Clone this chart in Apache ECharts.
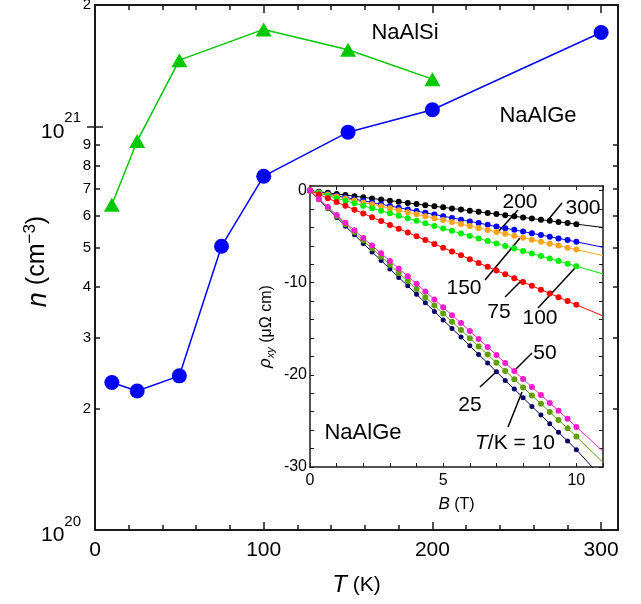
<!DOCTYPE html>
<html>
<head>
<meta charset="utf-8">
<script src="https://cdn.jsdelivr.net/npm/echarts@6/dist/echarts.min.js"></script>
<style>
  html, body { margin: 0; padding: 0; background: #fff; }
  #chart { width: 641px; height: 604px; }
</style>
</head>
<body>
<div id="chart"></div>
<script>
// main panel: carrier density vs temperature
var temps = [10, 25, 50, 75, 100, 150, 200, 300];
var nGe = [2.32e20, 2.21e20, 2.41e20, 5.05e20, 7.53e20, 9.68e20, 1.10e21, 1.71e21];
var tempsSi = [10, 25, 50, 100, 150, 200];
var nSi = [6.4e20, 9.2e20, 1.46e21, 1.74e21, 1.55e21, 1.31e21];

var nMinorTicks = [2e20, 3e20, 4e20, 5e20, 6e20, 7e20, 8e20, 9e20];
var nMajorTicks = [1e21];
var nLabelsLow = [1e20, 2e20, 3e20, 4e20, 5e20, 6e20, 7e20, 8e20, 9e20];
var nLabelsHigh = [1e21, 2e21];
var tMajor = [0, 100, 200, 300];
var tMinor = [0, 20, 40, 60, 80, 100, 120, 140, 160, 180, 200, 220, 240, 260, 280, 300];

// inset: Hall resistivity vs field for NaAlGe
var field = [0, 0.33, 0.67, 1, 1.33, 1.67, 2, 2.33, 2.67, 3, 3.33, 3.67, 4, 4.33, 4.67, 5,
  5.33, 5.67, 6, 6.33, 6.67, 7, 7.33, 7.67, 8, 8.33, 8.67, 9, 9.33, 9.67, 10];
var rho300 = [0, -0.12, -0.24, -0.36, -0.48, -0.61, -0.73, -0.85, -0.97, -1.09, -1.21, -1.34, -1.46, -1.58, -1.70, -1.82,
  -1.94, -2.06, -2.18, -2.30, -2.43, -2.55, -2.67, -2.79, -2.91, -3.03, -3.16, -3.28, -3.40, -3.52, -3.64];
var rho200 = [0, -0.19, -0.37, -0.56, -0.74, -0.93, -1.11, -1.30, -1.48, -1.67, -1.85, -2.04, -2.22, -2.41, -2.59, -2.78,
  -2.96, -3.15, -3.34, -3.52, -3.71, -3.89, -4.08, -4.26, -4.45, -4.63, -4.82, -5.00, -5.19, -5.37, -5.56];
var rho150 = [0, -0.21, -0.43, -0.64, -0.85, -1.07, -1.28, -1.49, -1.71, -1.92, -2.13, -2.35, -2.56, -2.77, -2.99, -3.20,
  -3.41, -3.63, -3.84, -4.05, -4.27, -4.48, -4.69, -4.91, -5.12, -5.33, -5.55, -5.76, -5.97, -6.19, -6.40];
var rho100 = [0, -0.27, -0.55, -0.82, -1.09, -1.37, -1.64, -1.91, -2.19, -2.46, -2.73, -3.01, -3.28, -3.55, -3.83, -4.10,
  -4.37, -4.65, -4.92, -5.19, -5.47, -5.74, -6.01, -6.29, -6.56, -6.83, -7.11, -7.38, -7.65, -7.93, -8.20];
var rho75 = [0, -0.41, -0.83, -1.24, -1.65, -2.07, -2.48, -2.89, -3.31, -3.72, -4.13, -4.55, -4.96, -5.37, -5.79, -6.20,
  -6.61, -7.03, -7.44, -7.85, -8.27, -8.68, -9.09, -9.51, -9.92, -10.33, -10.75, -11.16, -11.57, -11.99, -12.40];
var rho50 = [0, -0.90, -1.78, -2.64, -3.48, -4.31, -5.14, -5.97, -6.80, -7.63, -8.46, -9.29, -10.12, -10.96, -11.81, -12.66,
  -13.52, -14.38, -15.24, -16.11, -16.98, -17.85, -18.72, -19.59, -20.46, -21.32, -22.18, -23.04, -23.90, -24.77, -25.65];
var rho25 = [0, -0.93, -1.85, -2.76, -3.65, -4.53, -5.41, -6.29, -7.17, -8.05, -8.93, -9.81, -10.69, -11.57, -12.46, -13.35,
  -14.24, -15.13, -16.02, -16.91, -17.80, -18.69, -19.58, -20.47, -21.36, -22.24, -23.13, -24.02, -24.91, -25.80, -26.70];
var rho10 = [0, -0.98, -1.95, -2.91, -3.86, -4.80, -5.73, -6.66, -7.58, -8.50, -9.42, -10.34, -11.26, -12.18, -13.11, -14.04,
  -14.97, -15.90, -16.84, -17.78, -18.72, -19.66, -20.60, -21.54, -22.48, -23.42, -24.36, -25.30, -26.24, -27.18, -28.12];
// fit lines run on to 11 T
var fitEndField = 11;
var fitEnd = { t300: -4.0, t200: -6.15, t150: -7.05, t100: -9.05, t75: -13.6, t50: -28.3, t25: -29.5, t10: -31.3 };

var bTicks = [0, 1, 2, 3, 4, 5, 6, 7, 8, 9, 10, 11];
var bLabels = [0, 5, 10];
var rhoTicks = [-30, -28, -26, -24, -22, -20, -18, -16, -14, -12, -10, -8, -6, -4, -2, 0];
var rhoLabels = [-30, -20, -10, 0];

var FONT = "'Liberation Sans', Arial, sans-serif";
var AXIS_COLOR = '#1a1a1a';
var N_MIN = 1e20, N_MAX = 2.000001e21; // tiny headroom so the 2e21 label survives float rounding

var chart = echarts.init(document.getElementById('chart'));

function logLabel(v) {
  var e = Math.floor(Math.log10(v) + 1e-9);
  var m = Math.round(v / Math.pow(10, e));
  if (m === 1) return '{b|10}{s|' + e + '}';
  return String(m);
}

function xAx(opt) {
  return Object.assign({
    type: 'value',
    splitLine: { show: false },
    axisLine: { show: false, onZero: false },
    axisLabel: { show: false },
    axisTick: { show: false }
  }, opt);
}

function hallSeries(rho, end, color, size) {
  var data = field.map(function (b, i) { return [b, rho[i]]; });
  data.push({ value: [fitEndField, end], symbol: 'none' });
  return {
    type: 'line',
    xAxisIndex: 4,
    yAxisIndex: 4,
    data: data,
    symbol: 'circle',
    symbolSize: size || 6,
    lineStyle: { color: color, width: 1 },
    itemStyle: { color: color },
    animation: false
  };
}

var mainLine = { show: true, onZero: false, lineStyle: { color: AXIS_COLOR, width: 2 } };
var insetLine = { show: true, onZero: false, lineStyle: { color: AXIS_COLOR, width: 1.5 } };
var tickStyle = { color: AXIS_COLOR, width: 1.5 };
var logRich = {
  b: { fontSize: 21, fontFamily: FONT, color: '#000', verticalAlign: 'bottom' },
  s: { fontSize: 15, fontFamily: FONT, color: '#000', verticalAlign: 'bottom', padding: [0, 10, 17, 0] }
};

var option = {
  animation: false,
  textStyle: { fontFamily: FONT },
  grid: [
    { left: 95, top: 5, right: 23, bottom: 74, outerBoundsMode: 'none', containLabel: false },
    { left: 310, top: 186, right: 38, bottom: 137, outerBoundsMode: 'none', containLabel: false }
  ],
  xAxis: [
    xAx({
      gridIndex: 0, min: 0, max: 310, position: 'bottom',
      axisLine: mainLine,
      axisTick: { show: true, inside: true, length: 8, customValues: tMajor, lineStyle: tickStyle },
      axisLabel: { show: true, customValues: tMajor, fontSize: 21, margin: 10, color: '#000', fontFamily: FONT },
      name: '{i|T} (K)',
      nameLocation: 'middle',
      nameGap: 43,
      nameMoveOverlap: false,
      nameTextStyle: {
        fontSize: 21, color: '#000', fontFamily: FONT,
        rich: { i: { fontSize: 24, fontStyle: 'italic', fontFamily: FONT } }
      }
    }),
    xAx({
      gridIndex: 0, min: 0, max: 310, position: 'bottom',
      axisTick: { show: true, inside: true, length: 5, customValues: tMinor, lineStyle: tickStyle }
    }),
    xAx({
      gridIndex: 0, min: 0, max: 310, position: 'top',
      axisLine: mainLine,
      axisTick: { show: true, inside: true, length: 8, customValues: tMajor, lineStyle: tickStyle }
    }),
    xAx({
      gridIndex: 0, min: 0, max: 310, position: 'top',
      axisTick: { show: true, inside: true, length: 5, customValues: tMinor, lineStyle: tickStyle }
    }),
    xAx({
      gridIndex: 1, min: 0, max: 11, position: 'bottom',
      axisLine: insetLine,
      axisTick: { show: true, inside: true, length: 4, customValues: bTicks, lineStyle: { color: AXIS_COLOR, width: 1 } },
      axisLabel: { show: true, customValues: bLabels, fontSize: 16, margin: 6, color: '#000', fontFamily: FONT },
      name: '{i|B} (T)',
      nameLocation: 'middle',
      nameGap: 29,
      nameMoveOverlap: false,
      nameTextStyle: {
        fontSize: 16, color: '#000', fontFamily: FONT,
        rich: { i: { fontSize: 17, fontStyle: 'italic', fontFamily: FONT } }
      }
    }),
    xAx({
      gridIndex: 1, min: 0, max: 11, position: 'top',
      axisLine: insetLine,
      axisTick: { show: true, inside: true, length: 4, customValues: bTicks, lineStyle: { color: AXIS_COLOR, width: 1 } }
    })
  ],
  yAxis: [
    {
      gridIndex: 0, type: 'log', logBase: 10, min: N_MIN, max: N_MAX, position: 'left',
      splitLine: { show: false },
      axisLine: mainLine,
      axisTick: { show: true, inside: true, length: 5, customValues: nMinorTicks, lineStyle: tickStyle },
      axisLabel: {
        customValues: nLabelsLow, formatter: logLabel, fontSize: 15, margin: 4, color: '#000', fontFamily: FONT,
        hideOverlap: false, showMinLabel: true, showMaxLabel: true, rich: logRich
      },
      name: '{i|n} (cm{s|\u22123})',
      nameLocation: 'middle',
      nameGap: 43,
      nameMoveOverlap: false,
      nameTextStyle: {
        fontSize: 25, color: '#000', fontFamily: FONT, padding: [0, 0, 0, 12],
        rich: {
          i: { fontSize: 27, fontStyle: 'italic', fontFamily: FONT, verticalAlign: 'bottom' },
          s: { fontSize: 17, fontFamily: FONT, verticalAlign: 'bottom', padding: [0, 0, 13, 0] }
        }
      }
    },
    {
      gridIndex: 0, type: 'log', logBase: 10, min: N_MIN, max: N_MAX, position: 'left',
      splitLine: { show: false }, axisLine: { show: false },
      axisLabel: {
        customValues: nLabelsHigh, formatter: logLabel, fontSize: 15, margin: 4, color: '#000', fontFamily: FONT,
        hideOverlap: false, showMinLabel: true, showMaxLabel: true, rich: logRich
      },
      axisTick: { show: true, inside: true, length: 8, customValues: nMajorTicks, lineStyle: tickStyle }
    },
    {
      gridIndex: 0, type: 'log', logBase: 10, min: N_MIN, max: N_MAX, position: 'right',
      splitLine: { show: false }, axisLine: mainLine, axisLabel: { show: false },
      axisTick: { show: true, inside: true, length: 5, customValues: nMinorTicks, lineStyle: tickStyle }
    },
    {
      gridIndex: 0, type: 'log', logBase: 10, min: N_MIN, max: N_MAX, position: 'right',
      splitLine: { show: false }, axisLine: { show: false }, axisLabel: { show: false },
      axisTick: { show: true, inside: true, length: 8, customValues: nMajorTicks, lineStyle: tickStyle }
    },
    {
      gridIndex: 1, type: 'value', min: -30, max: 0.5, position: 'left',
      splitLine: { show: false },
      axisLine: insetLine,
      axisTick: { show: true, inside: true, length: 4, customValues: rhoTicks, lineStyle: { color: AXIS_COLOR, width: 1 } },
      axisLabel: { customValues: rhoLabels, fontSize: 16, margin: 3, color: '#000', fontFamily: FONT },
      name: '{i|\u03c1}{sub|xy} (\u03bc\u03a9 cm)',
      nameLocation: 'middle',
      nameGap: 34,
      nameMoveOverlap: false,
      nameTextStyle: {
        fontSize: 16, color: '#000', fontFamily: FONT,
        rich: {
          i: { fontSize: 17, fontStyle: 'italic', fontFamily: FONT, verticalAlign: 'top' },
          sub: { fontSize: 11, fontStyle: 'italic', fontFamily: FONT, verticalAlign: 'top', padding: [8, 0, 0, 0] }
        }
      }
    },
    {
      gridIndex: 1, type: 'value', min: -30, max: 0.5, position: 'right',
      splitLine: { show: false },
      axisLine: insetLine, axisLabel: { show: false },
      axisTick: { show: true, inside: true, length: 4, customValues: rhoTicks, lineStyle: { color: AXIS_COLOR, width: 1 } }
    }
  ],
  series: [
    {
      name: 'NaAlSi', type: 'line', xAxisIndex: 0, yAxisIndex: 0,
      data: tempsSi.map(function (t, i) { return [t, nSi[i]]; }),
      symbol: 'triangle', symbolSize: [16, 14],
      lineStyle: { color: '#00c800', width: 1.5 },
      itemStyle: { color: '#00c800' }
    },
    {
      name: 'NaAlGe', type: 'line', xAxisIndex: 0, yAxisIndex: 0,
      data: temps.map(function (t, i) { return [t, nGe[i]]; }),
      symbol: 'circle', symbolSize: 15,
      lineStyle: { color: '#0000ff', width: 1.5 },
      itemStyle: { color: '#0000ff' }
    },
    hallSeries(rho300, fitEnd.t300, '#000000'),
    hallSeries(rho200, fitEnd.t200, '#0000ff'),
    hallSeries(rho150, fitEnd.t150, '#ffa31a'),
    hallSeries(rho100, fitEnd.t100, '#00ee00'),
    hallSeries(rho75, fitEnd.t75, '#ff0000'),
    hallSeries(rho10, fitEnd.t10, '#000066', 5),
    hallSeries(rho25, fitEnd.t25, '#5fa000'),
    hallSeries(rho50, fitEnd.t50, '#ff1dce')
  ],
  graphic: [
    { type: 'text', x: 405, y: 33, style: { text: 'NaAlSi', font: '22px ' + FONT, fill: '#000', align: 'center', verticalAlign: 'middle' } },
    { type: 'text', x: 538, y: 116, style: { text: 'NaAlGe', font: '22px ' + FONT, fill: '#000', align: 'center', verticalAlign: 'middle' } },
    { type: 'text', x: 363, y: 433, style: { text: 'NaAlGe', font: '22px ' + FONT, fill: '#000', align: 'center', verticalAlign: 'middle' } },
    { type: 'text', x: 520, y: 202, style: { text: '200', font: '21px ' + FONT, fill: '#000', align: 'center', verticalAlign: 'middle' } },
    { type: 'text', x: 583, y: 208, style: { text: '300', font: '21px ' + FONT, fill: '#000', align: 'center', verticalAlign: 'middle' } },
    { type: 'text', x: 464, y: 288, style: { text: '150', font: '21px ' + FONT, fill: '#000', align: 'center', verticalAlign: 'middle' } },
    { type: 'text', x: 499, y: 312, style: { text: '75', font: '21px ' + FONT, fill: '#000', align: 'center', verticalAlign: 'middle' } },
    { type: 'text', x: 540, y: 318, style: { text: '100', font: '21px ' + FONT, fill: '#000', align: 'center', verticalAlign: 'middle' } },
    { type: 'text', x: 545, y: 353, style: { text: '50', font: '21px ' + FONT, fill: '#000', align: 'center', verticalAlign: 'middle' } },
    { type: 'text', x: 470, y: 405, style: { text: '25', font: '21px ' + FONT, fill: '#000', align: 'center', verticalAlign: 'middle' } },
    {
      type: 'text', x: 515, y: 443,
      style: {
        text: '{i|T}/K = 10', font: '21px ' + FONT, fill: '#000', align: 'center', verticalAlign: 'middle',
        rich: { i: { fontStyle: 'italic', fontSize: 21, fontFamily: FONT } }
      }
    },
    { type: 'line', shape: { x1: 518, y1: 210, x2: 498, y2: 232 }, style: { stroke: '#000', lineWidth: 1.5 } },
    { type: 'line', shape: { x1: 562, y1: 203, x2: 548, y2: 220 }, style: { stroke: '#000', lineWidth: 1.5 } },
    { type: 'line', shape: { x1: 520, y1: 238, x2: 485, y2: 280 }, style: { stroke: '#000', lineWidth: 1.5 } },
    { type: 'line', shape: { x1: 522, y1: 280, x2: 505, y2: 297 }, style: { stroke: '#000', lineWidth: 1.5 } },
    { type: 'line', shape: { x1: 575, y1: 268, x2: 538, y2: 308 }, style: { stroke: '#000', lineWidth: 1.5 } },
    { type: 'line', shape: { x1: 532, y1: 353, x2: 515, y2: 370 }, style: { stroke: '#000', lineWidth: 1.5 } },
    { type: 'line', shape: { x1: 495, y1: 373, x2: 480, y2: 387 }, style: { stroke: '#000', lineWidth: 1.5 } },
    { type: 'line', shape: { x1: 522, y1: 392, x2: 508, y2: 427 }, style: { stroke: '#000', lineWidth: 1.5 } }
  ]
};

chart.setOption(option);
</script>
</body>
</html>
